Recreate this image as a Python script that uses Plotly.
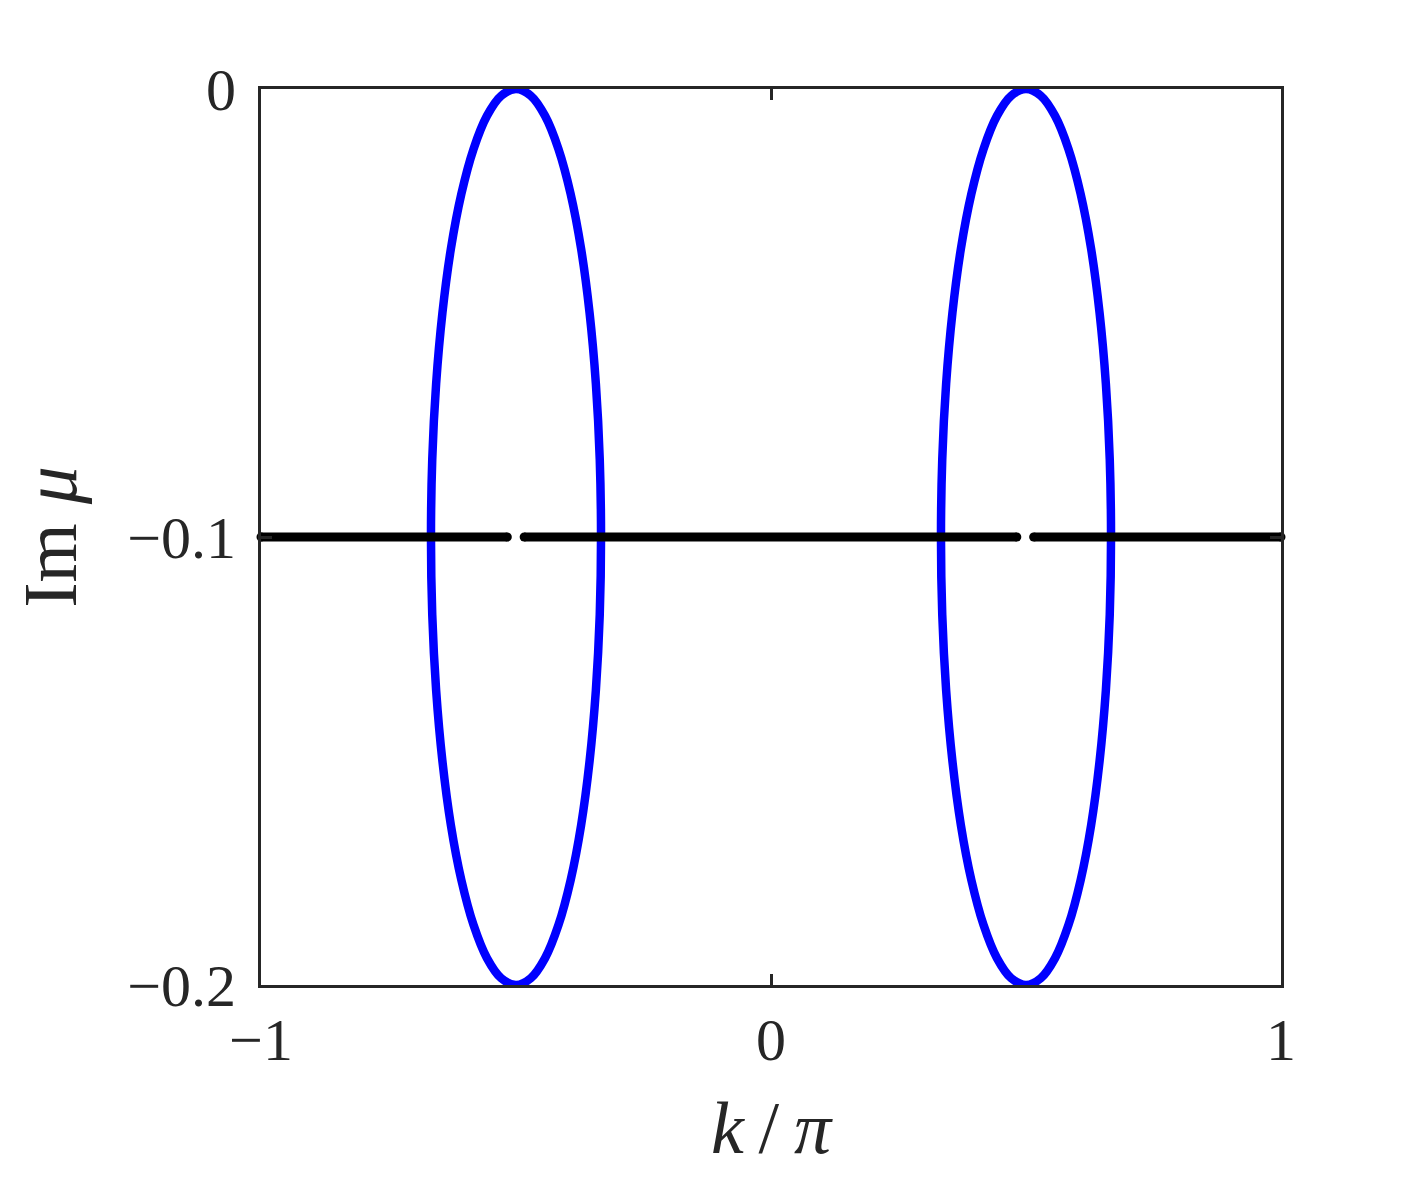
"""Im(mu) versus k/pi: two elliptic loops and a flat branch at -0.1."""

import plotly.graph_objects as go

# right loop (k/pi, Im mu), traced counter-clockwise
RIGHT_K = [0.6667, 0.6642, 0.6566, 0.6443, 0.6277, 0.6071, 0.5833, 0.5570, 0.5289,
           0.5000, 0.4711, 0.4430, 0.4167, 0.3929, 0.3723, 0.3557, 0.3434, 0.3358,
           0.3333, 0.3358, 0.3434, 0.3557, 0.3723, 0.3929, 0.4167, 0.4430, 0.4711,
           0.5000, 0.5289, 0.5570, 0.5833, 0.6071, 0.6277, 0.6443, 0.6566, 0.6642, 0.6667]
RIGHT_IM = [-0.1000, -0.0826, -0.0658, -0.0500, -0.0357, -0.0234, -0.0134, -0.0060, -0.0015,
            0.0000, -0.0015, -0.0060, -0.0134, -0.0234, -0.0357, -0.0500, -0.0658, -0.0826,
            -0.1000, -0.1174, -0.1342, -0.1500, -0.1643, -0.1766, -0.1866, -0.1940, -0.1985,
            -0.2000, -0.1985, -0.1940, -0.1866, -0.1766, -0.1643, -0.1500, -0.1342, -0.1174, -0.1000]

# left loop
LEFT_K = [-0.3333, -0.3358, -0.3434, -0.3557, -0.3723, -0.3929, -0.4167, -0.4430, -0.4711,
          -0.5000, -0.5289, -0.5570, -0.5833, -0.6071, -0.6277, -0.6443, -0.6566, -0.6642,
          -0.6667, -0.6642, -0.6566, -0.6443, -0.6277, -0.6071, -0.5833, -0.5570, -0.5289,
          -0.5000, -0.4711, -0.4430, -0.4167, -0.3929, -0.3723, -0.3557, -0.3434, -0.3358, -0.3333]
LEFT_IM = [-0.1000, -0.0826, -0.0658, -0.0500, -0.0357, -0.0234, -0.0134, -0.0060, -0.0015,
           0.0000, -0.0015, -0.0060, -0.0134, -0.0234, -0.0357, -0.0500, -0.0658, -0.0826,
           -0.1000, -0.1174, -0.1342, -0.1500, -0.1643, -0.1766, -0.1866, -0.1940, -0.1985,
           -0.2000, -0.1985, -0.1940, -0.1866, -0.1766, -0.1643, -0.1500, -0.1342, -0.1174, -0.1000]

# flat branch, broken near k = +-0.5
FLAT_K = [-1.0, -0.517, None, -0.484, 0.482, None, 0.515, 1.0]
FLAT_IM = [-0.1, -0.1, None, -0.1, -0.1, None, -0.1, -0.1]

X_TICKS = [-1, 0, 1]
X_TICKTEXT = ["−1", "0", "1"]
Y_TICKS = [-0.2, -0.1, 0]
Y_TICKTEXT = ["−0.2", "−0.1", "0"]

FONT = "Liberation Serif"
AXIS_COLOR = "#262626"

fig = go.Figure()
for k, im in ((LEFT_K, LEFT_IM), (RIGHT_K, RIGHT_IM)):
    fig.add_scatter(x=k, y=im, mode="lines", line={"color": "#0000ff", "width": 8.5, "shape": "spline"},
                    cliponaxis=False, showlegend=False, hoverinfo="skip")
fig.add_scatter(x=FLAT_K, y=FLAT_IM, mode="lines+markers", line={"color": "#000000", "width": 9},
                marker={"color": "#000000", "size": 9}, cliponaxis=False, showlegend=False,
                hoverinfo="skip")

axis = dict(showgrid=False, zeroline=False, showline=True, linecolor=AXIS_COLOR, linewidth=3,
            mirror="ticks", ticks="inside", ticklen=11, tickwidth=2.5, tickcolor=AXIS_COLOR,
            tickfont={"family": FONT, "size": 60, "color": AXIS_COLOR})
fig.update_xaxes(range=[-1, 1], tickvals=X_TICKS, ticktext=X_TICKTEXT, ticklabelstandoff=0,
                 title={"text": "<i>k</i>\u2009/\u2009<i>π</i>",
                        "font": {"family": FONT, "size": 74, "color": AXIS_COLOR}, "standoff": 30},
                 **axis)
fig.update_yaxes(range=[-0.2, 0], tickvals=Y_TICKS, ticktext=Y_TICKTEXT, ticklabelstandoff=10,
                 title={"text": "Im <i>μ</i>", "font": {"family": FONT, "size": 76, "color": AXIS_COLOR},
                        "standoff": 36}, **axis)
fig.update_layout(width=1417, height=1181, margin={"l": 253, "r": 144, "t": 81, "b": 204},
                  plot_bgcolor="white", paper_bgcolor="white")
fig.write_html("out.html")
